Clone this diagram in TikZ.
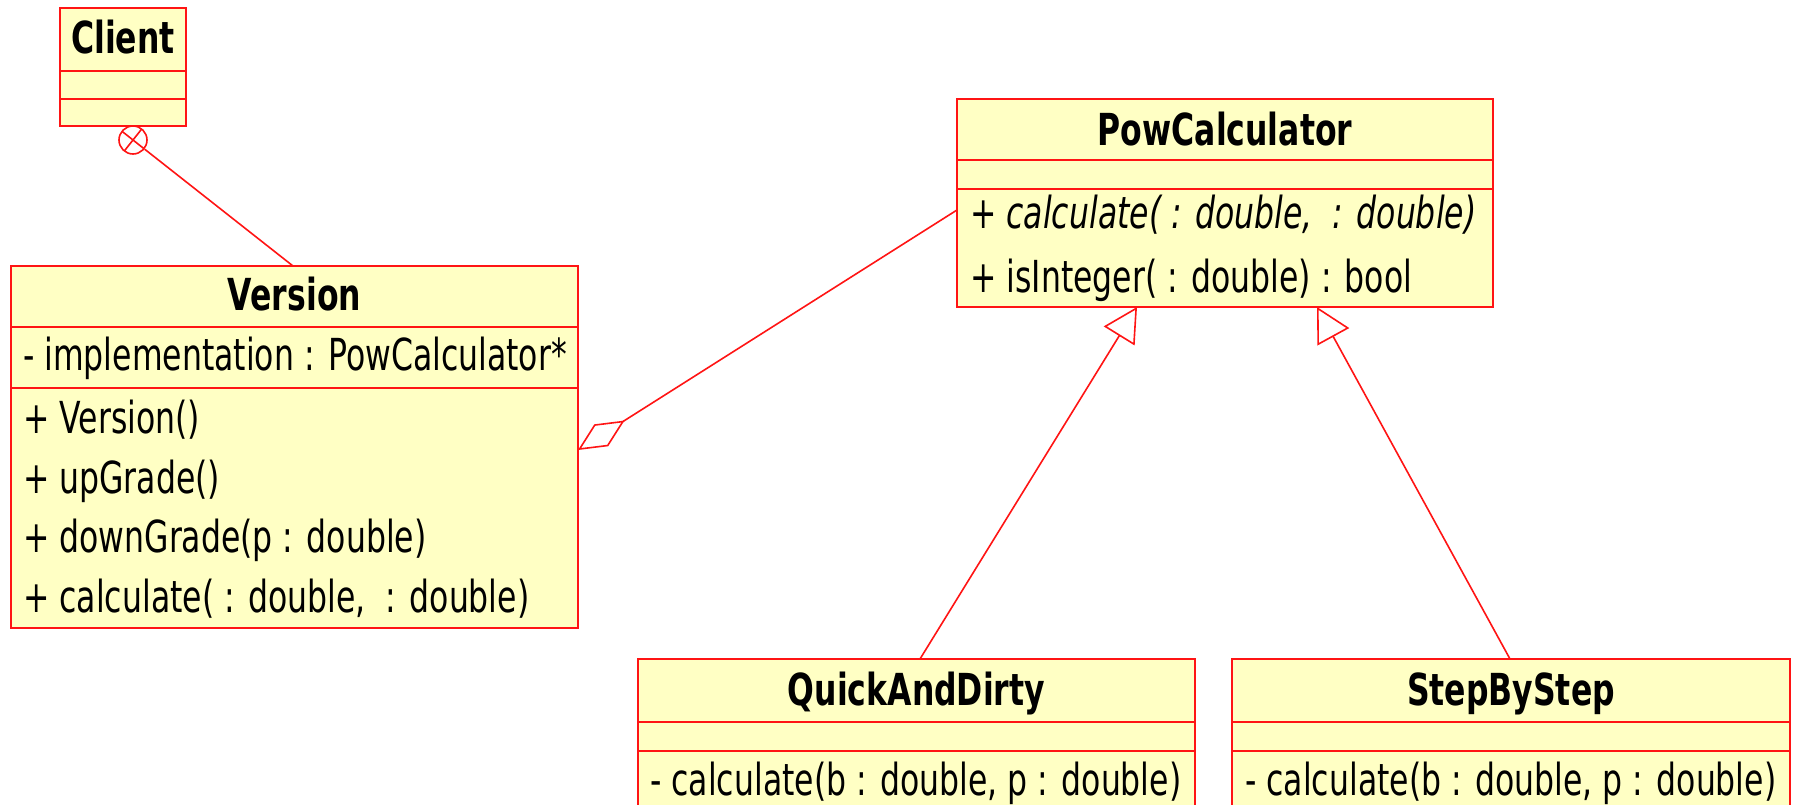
\documentclass[tikz,border=0pt]{standalone}
\usepackage{fontspec}
\setmainfont{DejaVu Sans}
\usepackage{graphicx}
\usetikzlibrary{arrows.meta,calc}
\definecolor{umlred}{RGB}{255,20,20}
\definecolor{umlfill}{RGB}{255,255,196}
\newcommand\vtxt[1]{\scalebox{1}[1.4]{#1}}
\begin{document}
\begin{tikzpicture}[x=1pt,y=-1pt,
  cls/.style={draw=umlred, fill=umlfill, line width=2.5pt, rectangle, inner sep=0pt, outer sep=0pt, anchor=north west},
  divl/.style={draw=umlred, line width=2.2pt},
  ttl/.style={inner sep=0pt, anchor=base, font=\fontsize{31.5}{36}\selectfont\bfseries},
  mem/.style={inner sep=0pt, anchor=base west, font=\fontsize{31.5}{36}\selectfont},
  conn/.style={draw=umlred, line width=1.6pt},
]
\clip (0,0) rectangle (1797,805);
\fill[white] (0,0) rectangle (1797,805);

% Client
\node[cls, minimum width=126pt, minimum height=118pt] (client) at (60,8) {};
\draw[divl] ([yshift=-63pt]client.north west) -- ([yshift=-63pt]client.north east);
\draw[divl] ([yshift=-91pt]client.north west) -- ([yshift=-91pt]client.north east);
\node[ttl] (clientT) at (123,54) {\vtxt{Client}};

% Version
\node[cls, minimum width=567pt, minimum height=362pt] (version) at (11,266) {};
\draw[divl] ([yshift=-61pt]version.north west) -- ([yshift=-61pt]version.north east);
\draw[divl] ([yshift=-122pt]version.north west) -- ([yshift=-122pt]version.north east);
\node[ttl] (versionT) at (294.5,310) {\vtxt{Version}};
\node[mem] (vA) at (23,370) {\vtxt{- implementation : PowCalculator*}};
\node[mem] (vM1) at (23,433) {\vtxt{+ Version()}};
\node[mem] (vM2) at (23,493) {\vtxt{+ upGrade()}};
\node[mem] (vM3) at (23,552) {\vtxt{+ downGrade(p : double)}};
\node[mem] (vM4) at (23,612) {\vtxt{+ calculate( : double,\ \ : double)}};

% PowCalculator
\node[cls, minimum width=536pt, minimum height=208pt] (powcalc) at (957,99) {};
\draw[divl] ([yshift=-61pt]powcalc.north west) -- ([yshift=-61pt]powcalc.north east);
\draw[divl] ([yshift=-90pt]powcalc.north west) -- ([yshift=-90pt]powcalc.north east);
\node[ttl] (powcalcT) at (1225,146) {\vtxt{PowCalculator}};
\node[mem, font=\fontsize{31.5}{36}\selectfont\itshape] (pM1) at (970,229) {\vtxt{+ calculate( : double,\ \ : double)}};
\node[mem] (pM2) at (970,292) {\vtxt{+ isInteger( : double) : bool}};

% QuickAndDirty
\node[cls, minimum width=557pt, minimum height=200pt] (qd) at (638,659) {};
\draw[divl] ([yshift=-63pt]qd.north west) -- ([yshift=-63pt]qd.north east);
\draw[divl] ([yshift=-92pt]qd.north west) -- ([yshift=-92pt]qd.north east);
\node[ttl] (qdT) at (916.5,705) {\vtxt{QuickAndDirty}};
\node[mem] (qdM) at (650,795) {\vtxt{- calculate(b : double, p : double)}};

% StepByStep
\node[cls, minimum width=558pt, minimum height=200pt] (sbs) at (1232,659) {};
\draw[divl] ([yshift=-63pt]sbs.north west) -- ([yshift=-63pt]sbs.north east);
\draw[divl] ([yshift=-92pt]sbs.north west) -- ([yshift=-92pt]sbs.north east);
\node[ttl] (sbsT) at (1511,705) {\vtxt{StepByStep}};
\node[mem] (sbsM) at (1245,795) {\vtxt{- calculate(b : double, p : double)}};

% Client -- Version (containment)
\node[draw=umlred, circle, minimum size=28pt, inner sep=0pt, line width=1.6pt] (nest) at (133,140) {};
\draw[conn] (nest) -- ([xshift=282pt]version.north west);
\draw[conn] (nest.center) ++(-11,-8.7) -- ++(22,17.4);
\draw[conn] (nest.center) ++(8.7,-11) -- ++(-17.4,22);

% Version -- PowCalculator (aggregation)
\draw[conn, {Diamond[open, length=55pt, width=26pt]}-] ([yshift=-184pt]version.north east) -- ([yshift=-111pt]powcalc.north west);

% Generalizations
\draw[conn, -{Triangle[open, length=34pt, width=36pt]}] ([xshift=282pt]qd.north west) -- ([xshift=180pt]powcalc.south west);
\draw[conn, -{Triangle[open, length=34pt, width=36pt]}] ([xshift=278pt]sbs.north west) -- ([xshift=360pt]powcalc.south west);
\end{tikzpicture}
\end{document}
